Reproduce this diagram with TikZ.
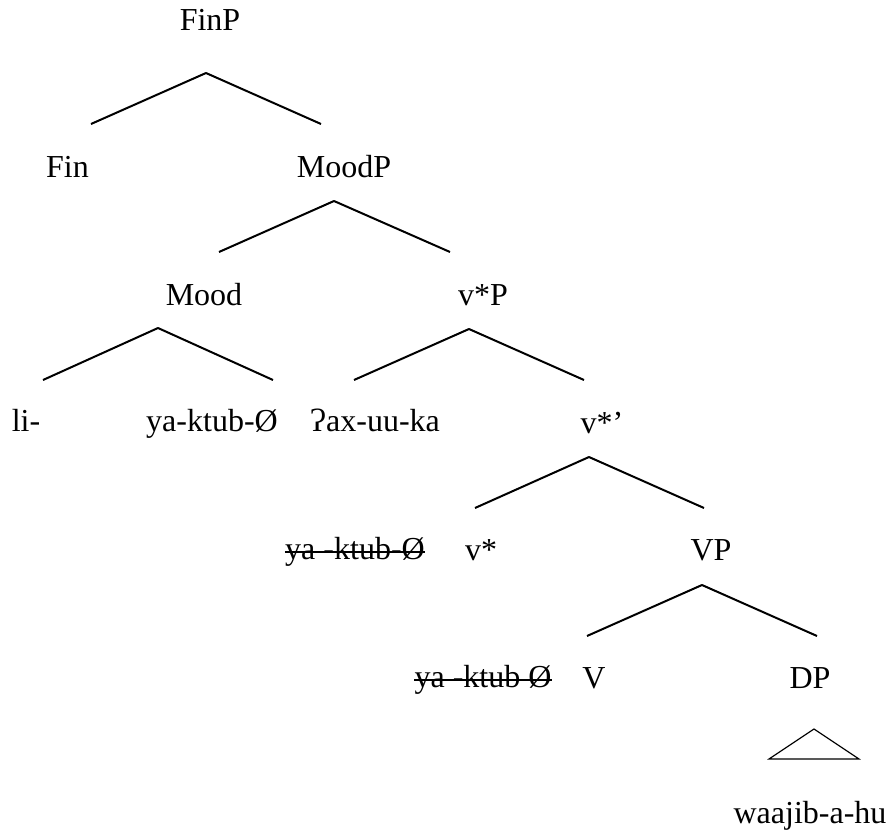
\documentclass[tikz,border=0pt]{standalone}
\usepackage{fontspec}
\setmainfont{Liberation Serif}
\tikzset{
	cat/.style={anchor=base, inner sep=0pt, font=\fontsize{24}{28}\selectfont},
	branch/.style={line width=1.5pt},
	strike/.style={line width=1.5pt},
	roof/.style={line width=.9pt}
}
\begin{document}
\begin{tikzpicture}[x=.75pt, y=-.75pt]
	\useasboundingbox (0, 0) rectangle (890, 832);
	\begin{scope}[every node/.style=cat]
		\node (finp) at (210, 30) {FinP};
		\node (fin) at (67.5, 177) {Fin};
		\node (moodp) at (344, 177) {MoodP};
		\node (mood) at (204, 305) {Mood};
		\node (vsp) at (483, 305) {v*P};
		\node (li) at (26, 431) {li-};
		\node (yaktub) at (212, 431) {ya-ktub-Ø};
		\node (axuuka) at (374.5, 431) {Ɂax-uu-ka};
		\node (vsbar) at (602, 433) {v*’};
		\node (copy1) at (355, 559) {ya -ktub-Ø};
		\node (vs) at (481, 560) {v*};
		\node (vp) at (711, 560) {VP};
		\node (copy2) at (483, 687) {ya -ktub Ø};
		\node (v) at (594, 688) {V};
		\node (dp) at (810, 688) {DP};
		\node (waajib) at (810, 823) {waajib-a-hu};
	\end{scope}
	% branch points
	\coordinate (finp-t) at (206, 73);
	\coordinate (finp-l) at (91, 124);
	\coordinate (finp-r) at (321, 124);
	\coordinate (moodp-t) at (334, 201);
	\coordinate (moodp-l) at (219, 252);
	\coordinate (moodp-r) at (450, 252);
	\coordinate (mood-t) at (158, 328);
	\coordinate (mood-l) at (43, 380);
	\coordinate (mood-r) at (273, 380);
	\coordinate (vsp-t) at (469, 329);
	\coordinate (vsp-l) at (354, 380);
	\coordinate (vsp-r) at (584, 380);
	\coordinate (vsbar-t) at (589, 457);
	\coordinate (vsbar-l) at (475, 508);
	\coordinate (vsbar-r) at (704, 508);
	\coordinate (vp-t) at (702, 585);
	\coordinate (vp-l) at (587, 636);
	\coordinate (vp-r) at (817, 636);
	\path[branch] (finp-t) edge (finp-l) edge (finp-r);
	\path[branch] (moodp-t) edge (moodp-l) edge (moodp-r);
	\path[branch] (mood-t) edge (mood-l) edge (mood-r);
	\path[branch] (vsp-t) edge (vsp-l) edge (vsp-r);
	\path[branch] (vsbar-t) edge (vsbar-l) edge (vsbar-r);
	\path[branch] (vp-t) edge (vp-l) edge (vp-r);
	% deleted copies
	\draw[strike] ([yshift=5.5pt]copy1.base west) -- ([yshift=5.5pt]copy1.base east);
	\draw[strike] ([yshift=5pt]copy2.base west) -- ([yshift=5pt]copy2.base east);
	% DP roof
	\coordinate (roof-t) at (814, 729);
	\coordinate (roof-l) at (769, 759);
	\coordinate (roof-r) at (859, 759);
	\draw[roof] (roof-t) -- (roof-l) -- (roof-r) -- cycle;
\end{tikzpicture}
\end{document}
